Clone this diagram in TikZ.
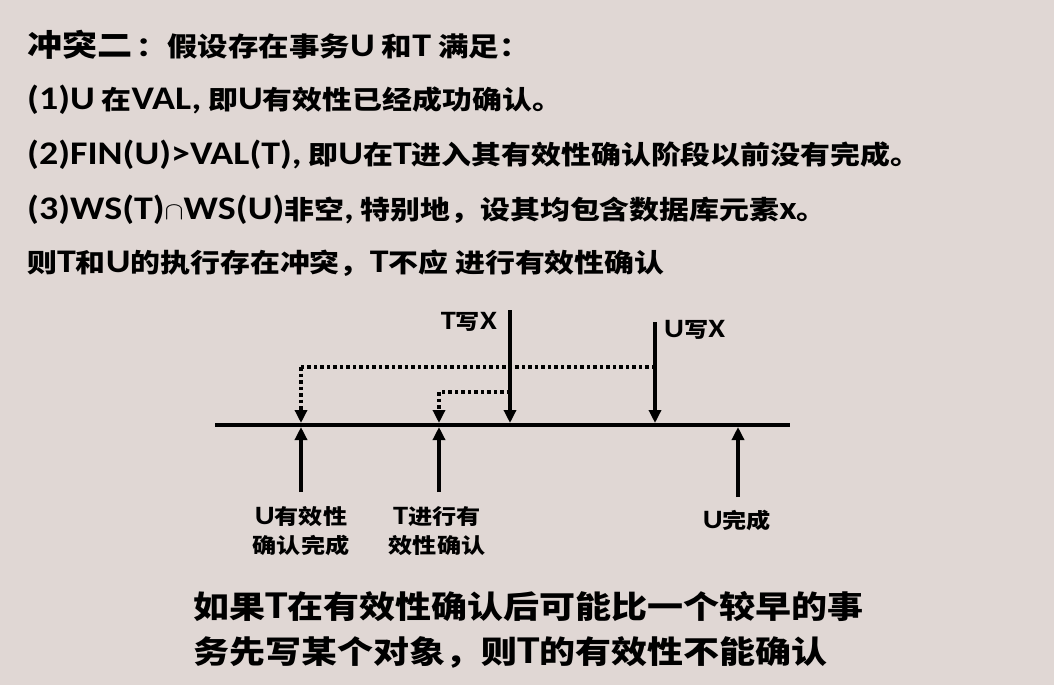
\documentclass[tikz,border=0pt]{standalone}
\usepackage{fontspec}
\usepackage{graphicx}
\newfontfamily\cjk{Noto Sans CJK SC}
\newfontfamily\latf{Carlito}
\newcommand\la[2][33]{{\latf\bfseries\fontsize{#1}{#1}\selectfont #2}}
\usetikzlibrary{arrows.meta}
\definecolor{bgcol}{RGB}{224,215,212}
\newcommand\stretchtxt[1]{\scalebox{1.15}[1]{#1}}
\begin{document}
\begin{tikzpicture}[x=1pt,y=-1pt,
  txt/.style={anchor=west, inner sep=0pt, font=\cjk\bfseries\fontsize{26}{30}\selectfont},
  big/.style={anchor=west, inner sep=0pt, font=\cjk\bfseries\fontsize{30.5}{34}\selectfont},
  lab/.style={inner sep=0pt, align=center, font=\cjk\bfseries\fontsize{21}{29}\selectfont},
  note/.style={anchor=west, inner sep=0pt, font=\cjk\bfseries\fontsize{31.3}{45}\selectfont},
  axis/.style={line width=4pt},
  arr/.style={line width=3.5pt, -{Triangle[length=13pt,width=12pt]}},
  dotarr/.style={line width=3.5pt, dash pattern=on 3.5pt off 3pt, -{Triangle[length=13pt,width=12pt]}},
  dotline/.style={line width=3.5pt, dash pattern=on 3.5pt off 3pt}]
\useasboundingbox (0,0) rectangle (1054,685);
\fill[bgcol] (0,0) rectangle (1054,685);

% text lines
\node[big] (h0) at (27,45) {\stretchtxt{冲突二}};
\node[txt, anchor=base west, font=\cjk\bfseries\fontsize{26.5}{30}\selectfont] (h1) at ([xshift=4pt]h0.base east) {\stretchtxt{：假设存在事务\la{U} 和\la{T} 满足：}};
\node[txt] (l1) at (27,100) {\stretchtxt{\la{(1)U} 在\la{VAL,} 即\la{U}有效性已经成功确认。}};
\node[txt] (l2) at (27,155) {\stretchtxt{\la{(2)FIN(U)>VAL(T),} 即\la{U}在\la{T}进入其有效性确认阶段以前没有完成。}};
\node[txt] (l3) at (27,210) {\stretchtxt{\la{(3)WS(T)}$\cap$\la{WS(U)}非空\la{,} 特别地，设其均包含数据库元素\la{x}。}};
\node[txt] (l4) at (27,263) {\stretchtxt{则\la{T}和\la{U}的执行存在冲突，\la{T}不应 进行有效性确认}};

% timeline
\coordinate (L1) at (215,425);
\coordinate (L2) at (790,425);
\draw[axis] (L1) -- (L2);

% write arrows
\coordinate (tw0) at (510,310);
\coordinate (tw1) at (510,423);
\coordinate (uw0) at (655,322);
\coordinate (uw1) at (655,423);
\draw[arr] (tw0) -- (tw1);
\draw[arr] (uw0) -- (uw1);
\node[lab, anchor=east] (twl) at (497,322) {\stretchtxt{\la[26.5]{T}写\la[26.5]{X}}};
\node[lab, anchor=west] (uwl) at (664,330) {\stretchtxt{\la[26.5]{U}写\la[26.5]{X}}};

% dotted arrows
\coordinate (d1a) at (655,367);
\coordinate (d1b) at (301,367);
\coordinate (d1c) at (301,423);
\coordinate (d2a) at (510,392);
\coordinate (d2b) at (439,392);
\coordinate (d2c) at (439,423);
\draw[dotline] (d1a) -- (d1b);
\draw[dotarr] (d1b) -- (d1c);
\draw[dotline] (d2a) -- (d2b);
\draw[dotarr] (d2b) -- (d2c);

% up arrows
\coordinate (u1a) at (301,492);
\coordinate (u1b) at (301,427);
\coordinate (u2a) at (439,492);
\coordinate (u2b) at (439,427);
\coordinate (u3a) at (738,497);
\coordinate (u3b) at (738,427);
\draw[arr] (u1a) -- (u1b);
\draw[arr] (u2a) -- (u2b);
\draw[arr] (u3a) -- (u3b);
\node[lab] (ul) at (301,531) {\stretchtxt{\la[26.5]{U}有效性}\\\stretchtxt{确认完成}};
\node[lab] (tl) at (437,531) {\stretchtxt{\la[26.5]{T}进行有}\\\stretchtxt{效性确认}};
\node[lab] (ucl) at (737,520) {\stretchtxt{\la[26.5]{U}完成}};

% bottom note
\node[note] (n1) at (193,607) {\stretchtxt{如果\la[39.5]{T}在有效性确认后可能比一个较早的事}};
\node[note] (n2) at (193,652) {\stretchtxt{务先写某个对象，则\la[39.5]{T}的有效性不能确认}};
\end{tikzpicture}
\end{document}
